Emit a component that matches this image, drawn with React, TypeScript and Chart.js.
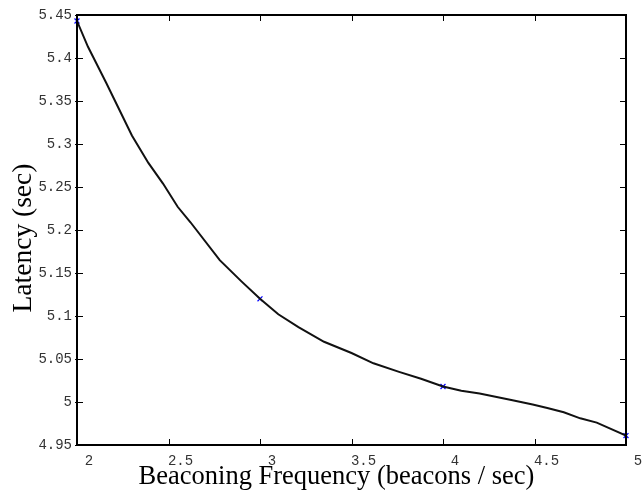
import React, { useEffect, useRef } from "react";
import { Chart, registerables } from "chart.js";

Chart.register(...registerables);

// Smooth latency curve
const curveX = [2.0, 2.06, 2.16, 2.3, 2.39, 2.47, 2.55, 2.62, 2.78, 2.9, 3.0, 3.1, 3.21, 3.35, 3.5, 3.62, 3.76, 3.88, 4.0, 4.1, 4.2, 4.38, 4.49, 4.57, 4.66, 4.75, 4.84, 5.0];
const curveY = [5.443, 5.413, 5.371, 5.31, 5.278, 5.254, 5.227, 5.209, 5.165, 5.14, 5.12, 5.102, 5.087, 5.07, 5.057, 5.045, 5.035, 5.027, 5.018, 5.013, 5.01, 5.002, 4.997, 4.993, 4.988, 4.981, 4.976, 4.961];

// Measured points (x markers)
const markerX = [2, 3, 4, 5];
const markerY = [5.443, 5.12, 5.018, 4.961];

const xTicks = [2, 2.5, 3, 3.5, 4, 4.5, 5];
const yTicks = [4.95, 5.0, 5.05, 5.1, 5.15, 5.2, 5.25, 5.3, 5.35, 5.4, 5.45];

const xTitle = "Beaconing Frequency (beacons / sec)";
const yTitle = "Latency (sec)";

const fmt = (v: number) => String(Number(v.toFixed(2)));

const boxPlugin = {
  id: "matlabBox",
  afterDraw(chart: any) {
    const { ctx, chartArea: a, scales } = chart;
    ctx.save();
    ctx.strokeStyle = "#000";
    ctx.lineWidth = 2;
    ctx.strokeRect(a.left, a.top, a.right - a.left, a.bottom - a.top);
    ctx.lineWidth = 1;
    const len = 6;
    ctx.beginPath();
    for (const v of xTicks) {
      const px = Math.round(scales.x.getPixelForValue(v)) + 0.5;
      ctx.moveTo(px, a.bottom);
      ctx.lineTo(px, a.bottom - len);
      ctx.moveTo(px, a.top);
      ctx.lineTo(px, a.top + len);
    }
    for (const v of yTicks) {
      const py = Math.round(scales.y.getPixelForValue(v)) + 0.5;
      ctx.moveTo(a.left - 2, py);
      ctx.lineTo(a.left + len, py);
      ctx.moveTo(a.right, py);
      ctx.lineTo(a.right - len, py);
    }
    ctx.stroke();

    // axis titles
    ctx.fillStyle = "#000";
    ctx.textAlign = "center";
    ctx.textBaseline = "middle";
    ctx.font = "26.5px 'Liberation Serif'";
    ctx.fillText(xTitle, (a.left + a.right) / 2 - 15, 477);
    ctx.save();
    ctx.translate(24, (a.top + a.bottom) / 2 + 8);
    ctx.rotate(-Math.PI / 2);
    ctx.font = "27.5px 'Liberation Serif'";
    ctx.fillText(yTitle, 0, 0);
    ctx.restore();
    ctx.restore();
  },
};

export default function App() {
  const ref = useRef<HTMLCanvasElement | null>(null);
  useEffect(() => {
    document.body.style.margin = "0";
    const canvas = ref.current!;
    const chart = new Chart(canvas, {
      type: "scatter",
      data: {
        datasets: [
          {
            type: "line",
            data: curveX.map((x, i) => ({ x, y: curveY[i] })),
            borderColor: "#111",
            borderWidth: 2,
            pointRadius: 0,
            tension: 0,
            fill: false,
          },
          {
            data: markerX.map((x, i) => ({ x, y: markerY[i] })),
            pointStyle: "crossRot",
            pointRadius: 3.5,
            pointBorderWidth: 1.2,
            borderColor: "#0000ff",
            backgroundColor: "#0000ff",
            showLine: false,
            clip: false,
          },
        ],
      },
      plugins: [boxPlugin],
      options: {
        responsive: false,
        animation: false,
        devicePixelRatio: 1,
        layout: { padding: { top: 15, right: 16, left: 0, bottom: 0 } },
        plugins: {
          legend: { display: false },
          tooltip: { enabled: false },
        },
        scales: {
          x: {
            type: "linear",
            min: 2,
            max: 5,
            afterBuildTicks: (s: any) => {
              s.ticks = xTicks.map((v) => ({ value: v }));
            },
            afterFit: (s: any) => {
              s.height = 48;
              s.paddingLeft = 0;
              s.paddingRight = 0;
            },
            grid: { display: false, drawTicks: false },
            border: { display: false },
            ticks: {
              padding: 8,
              labelOffset: 12,
              maxRotation: 0,
              autoSkip: false,
              color: "#333",
              callback: (v: any) => fmt(Number(v)),
              font: { family: "Liberation Mono", size: 14 },
            },
          },
          y: {
            type: "linear",
            min: 4.95,
            max: 5.45,
            afterBuildTicks: (s: any) => {
              s.ticks = yTicks.map((v) => ({ value: v }));
            },
            afterFit: (s: any) => {
              s.width = 77;
              s.paddingTop = 0;
              s.paddingBottom = 0;
            },
            grid: { display: false, drawTicks: false },
            border: { display: false },
            ticks: {
              padding: 5,
              autoSkip: false,
              color: "#333",
              callback: (v: any) => fmt(Number(v)),
              font: { family: "Liberation Mono", size: 14 },
            },
          },
        },
      },
    } as any);
    return () => chart.destroy();
  }, []);
  return (
    <div style={{ width: 642, height: 493 }}>
      <canvas ref={ref} width={642} height={493} />
    </div>
  );
}
